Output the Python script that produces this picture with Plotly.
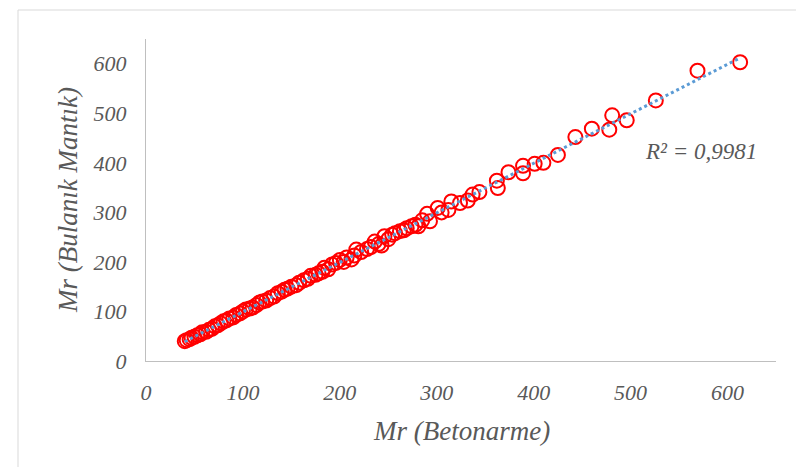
import numpy as np
import plotly.graph_objects as go

# Mr (Betonarme) values
x_vals = [40, 42, 45, 47, 50, 53, 56, 58, 62, 65, 68, 71, 74, 77, 80, 83, 86, 90, 93, 97,
          100, 103, 107, 110, 114, 117, 120, 124, 128, 132, 136, 140, 143, 146, 150, 155,
          158, 163, 167, 170, 175, 178, 182, 184, 188, 192, 196, 200, 204, 207, 212, 215,
          217, 222, 228, 232, 236, 240, 243, 246, 250, 254, 257, 262, 266, 269, 274, 278,
          281, 285, 290, 293, 301, 305, 312, 315, 324, 332, 337, 344, 362, 363, 374, 389,
          389, 401, 410, 425, 443, 460, 478, 481, 496, 526, 569, 613]
# Mr (Bulanık Mantık) values
y_vals = [40, 42, 44, 47, 49, 52, 54, 58, 59, 63, 65, 70, 72, 76, 80, 82, 86, 88, 93, 96,
          100, 104, 106, 108, 113, 118, 120, 122, 127, 130, 137, 140, 144, 146, 150, 153,
          158, 163, 166, 172, 174, 177, 180, 188, 185, 195, 198, 204, 200, 209, 205, 213,
          225, 220, 226, 230, 241, 236, 233, 252, 246, 255, 258, 262, 264, 268, 272, 275,
          272, 284, 297, 282, 309, 300, 305, 322, 319, 324, 336, 341, 364, 349, 381, 394,
          379, 398, 400, 416, 452, 469, 467, 496, 486, 526, 586, 603]

x_ticks = [0, 100, 200, 300, 400, 500, 600]
y_ticks = [0, 100, 200, 300, 400, 500, 600]
r2_label = "R² = 0,9981"
x_title = "Mr (Betonarme)"
y_title = "Mr (Bulanık Mantık)"

xa = np.array(x_vals, dtype=float)
ya = np.array(y_vals, dtype=float)
slope, intercept = np.polyfit(xa, ya, 1)
tx = np.array([xa.min(), xa.max()])
ty = slope * tx + intercept

FONT = "Liberation Serif, Times New Roman, serif"
GREY = "#595959"

fig = go.Figure()
fig.add_trace(go.Scatter(
    x=x_vals, y=y_vals, mode="markers",
    marker=dict(symbol="circle-open", size=14, color="#FF0000", line=dict(width=2, color="#FF0000")),
    showlegend=False, hoverinfo="x+y"))
fig.add_trace(go.Scatter(
    x=tx, y=ty, mode="lines",
    line=dict(color="#5B9BD5", width=3, dash="dot"),
    showlegend=False, hoverinfo="skip"))

W, H = 804, 467
L, R, T, B = 138, 36, 31, 114
pw, ph = W - L - R, H - T - B

def px_to_paper_x(px):
    return (px - L) / pw

def px_to_paper_y(py):
    return (H - B - py) / ph

axis_common = dict(
    range=[0, 650], tickmode="array", showgrid=False, zeroline=False,
    showline=True, linecolor="#BFBFBF", linewidth=1, ticks="",
    tickfont=dict(family=FONT, size=22, color=GREY, style="italic"),
    fixedrange=True,
)

fig.update_layout(
    width=W, height=H,
    margin=dict(l=L, r=R, t=T, b=B, pad=0),
    paper_bgcolor="white", plot_bgcolor="white",
    xaxis=dict(**axis_common, tickvals=x_ticks, ticktext=[str(v) for v in x_ticks],
               ticklabelstandoff=12),
    yaxis=dict(**axis_common, tickvals=y_ticks, ticktext=[str(v) for v in y_ticks],
               ticklabelstandoff=14),
    annotations=[
        dict(text=x_title, xref="paper", yref="paper", x=0.5, y=px_to_paper_y(423),
             xanchor="center", yanchor="middle", showarrow=False,
             font=dict(family=FONT, size=27, color=GREY, style="italic")),
        dict(text=y_title, xref="paper", yref="paper", x=px_to_paper_x(60), y=0.5,
             xanchor="center", yanchor="middle", showarrow=False, textangle=-90,
             font=dict(family=FONT, size=27, color=GREY, style="italic")),
        dict(text=r2_label, xref="paper", yref="paper", x=px_to_paper_x(693), y=px_to_paper_y(143),
             xanchor="center", yanchor="middle", showarrow=False,
             font=dict(family=FONT, size=23, color=GREY, style="italic")),
    ],
    shapes=[dict(type="rect", xref="paper", yref="paper",
                 x0=px_to_paper_x(10), x1=px_to_paper_x(797),
                 y0=px_to_paper_y(466), y1=px_to_paper_y(2),
                 line=dict(color="#D9D9D9", width=1), fillcolor="rgba(0,0,0,0)", layer="below")],
)

fig.write_html("out.html")
